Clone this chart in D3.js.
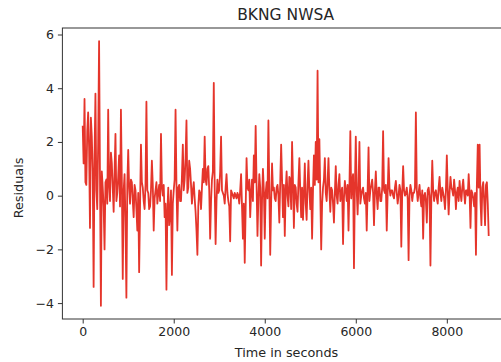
<!DOCTYPE html>
<html>
<head>
<meta charset="utf-8">
<script src="https://cdn.jsdelivr.net/npm/d3@7"></script>
<style>
  html, body { margin: 0; padding: 0; background: #fff; }
  text { font-family: "DejaVu Sans", sans-serif; fill: #262626; }
</style>
</head>
<body>
<svg width="501" height="362"></svg>
<script>
let stepSeconds = 20;
let residuals = [
    2.6, 1.2, 3.6, 0.5, 0.4, 2.4, 3.1, 1.8, -1.2, 2.9, 2.2, 0.9, -3.4, 1.5, 3.8, 0.2, -0.5, 2.0, 5.75, 0.6, -4.1, 0.9, 0.3, -0.4, -2.0,
    0.5, 0.6, -0.3, 3.2, 0.4, -0.2, 1.6, 1.2, 0.3, -0.6, 0.9, 2.3, -0.2, 0.1, 0.7, 1.5, -0.4, 3.2, 0.5, -3.1, 0.2, 0.8, -1.0, -3.8, 0.4,
    1.7, 0.3, -0.3, 0.6, 0.5, -0.2, -0.8, 0.4, 0.2, -0.5, -1.3, 0.1, -2.85, -0.4, 1.9, 0.5, 0.3, -0.2, -0.5, 0.4, 3.5, 0.2, 0.1, -0.5, -0.4,
    0.2, 1.3, 0.4, -1.3, -0.1, 0.2, 0.5, -0.3, 0.1, 0.4, -0.2, 2.3, 0.3, 0.0, 0.4, -0.8, -0.3, -3.5, -0.6, 0.3, -1.1, -0.7, 0.2, -2.95, -0.3,
    0.2, 0.6, 3.2, 0.4, -1.3, 0.3, 0.4, -0.2, -0.2, 0.7, 1.9, 0.2, 0.6, 1.4, 2.8, 0.1, 0.3, 1.3, 1.0, 0.4, -0.3, 0.2, 0.5, -0.1, -0.6,
    -1.3, -2.2, -0.4, 0.2, 0.1, -0.5, 0.3, 1.0, 0.5, 2.2, 0.6, 0.4, 1.0, 1.1, 0.2, -1.6, -0.2, 0.6, 0.9, 4.2, 0.3, -1.8, -0.2, 0.6, 0.1,
    0.2, 0.9, 2.2, 0.2, 0.1, 0.0, -0.3, 0.3, 0.8, 0.1, -0.2, -0.4, -1.7, 0.2, 0.1, 0.0, -0.1, 0.1, 0.0, -0.1, 0.1, 0.0, -0.3, 0.2, 0.8,
    -0.4, -1.6, -0.3, -2.5, -0.5, 1.4, 0.3, 0.2, 0.6, -0.8, 0.1, 0.6, -0.2, 1.5, 0.5, 2.6, 0.4, -1.5, -0.1, 0.8, 0.3, -2.6, -0.2, 1.0, 0.2,
    -1.6, 0.1, 0.5, -0.1, 2.8, 0.3, -2.2, -0.3, 1.2, 0.2, 0.3, -0.1, -0.2, 0.3, 0.4, 0.0, -1.0, 0.5, 1.9, 0.6, -0.8, 0.4, -1.5, 0.2, 0.9,
    0.0, -0.4, 0.7, 0.6, -0.5, 2.0, 0.5, -1.2, 0.4, 0.3, -0.3, -0.6, 0.5, 1.4, 0.2, -0.8, 0.3, -0.9, 0.1, 1.2, -0.3, -0.9, 0.4, 1.3, 0.2,
    -0.5, 0.3, -1.6, 0.2, 1.5, 0.4, 2.0, 0.6, 4.65, 0.5, 2.1, 0.1, -2.0, -0.3, 0.3, 0.6, 1.4, 0.1, -0.2, 0.5, 1.4, 0.2, -0.6, 0.3, 0.2,
    -0.3, -1.0, 0.1, 1.1, 0.0, -0.3, 0.4, 0.8, -0.2, 0.1, 0.3, -1.8, -0.1, 0.55, 0.2, -0.2, 0.4, -1.3, 0.3, 2.4, -0.1, 0.5, 0.8, -2.7, 0.3,
    2.2, 0.2, -0.7, 0.4, 2.0, -0.3, 0.0, 0.2, 0.3, -0.1, -0.3, 0.1, -1.3, 0.2, 1.8, -0.2, 0.2, 0.4, 0.6, 0.1, -1.1, 0.2, 0.9, 0.0, -0.5,
    0.3, 0.3, -0.2, -0.2, 0.3, 2.4, 0.2, 0.1, 0.4, -1.3, 0.1, 1.4, 0.3, 0.0, 0.2, 0.2, 0.0, -0.1, 0.3, 0.55, 0.1, -0.3, 0.0, 0.4, 0.2,
    -1.9, 0.1, 1.1, 0.2, 0.0, 0.1, 0.3, -0.1, -2.4, 0.0, 0.4, 0.2, -0.2, 0.1, 0.1, 0.3, 3.1, 0.2, -0.2, 0.1, 0.4, -0.1, -0.4, 0.2, -1.6,
    0.0, 0.1, -0.2, -1.0, 0.2, 0.3, 0.0, -2.6, -0.1, 1.3, 0.2, -0.2, 0.1, 0.2, -0.1, -0.3, 0.3, 0.7, 0.1, -0.2, 0.3, 0.1, -0.1, -0.5, 0.2,
    1.5, 0.2, -0.7, 0.1, 0.7, 0.3, 0.2, 0.0, 0.6, 0.2, -0.5, 0.1, 0.3, -0.2, 0.55, 0.1, -0.2, 0.3, 0.6, 0.1, -0.3, 0.2, 0.2, 0.0, 0.8,
    0.1, -1.2, 0.2, 0.1, -0.1, -0.4, 0.1, -2.2, 0.4, 1.9, 0.3, 1.9, -0.2, -1.1, 0.3, 0.5, -0.2, -1.1, 0.4, 0.5, -0.3, -1.5
];
let xTicks = [0, 2000, 4000, 6000, 8000];
let yTicks = [-4, -2, 0, 2, 4, 6];

let svg = d3.select("svg");
let plot = {left: 62.4, right: 509, top: 28, bottom: 319};

let data = residuals.map(function (v, i) {
    return {t: i * stepSeconds, v: v};
});

let tMax = d3.max(data, function (d) { return d.t; });
let vMin = d3.min(residuals), vMax = d3.max(residuals);
let tPad = tMax * 0.05, vPad = (vMax - vMin) * 0.05;

let x = d3.scaleLinear().domain([-tPad, tMax + tPad]).range([plot.left, plot.right]);
let y = d3.scaleLinear().domain([vMin - vPad, vMax + vPad]).range([plot.bottom, plot.top]);

let line = d3.line()
    .x(function (d) { return x(d.t); })
    .y(function (d) { return y(d.v); });

svg.append("path")
    .datum(data)
    .attr("fill", "none")
    .attr("stroke", "#e5352b")
    .attr("stroke-width", 1.8)
    .attr("stroke-linejoin", "round")
    .attr("d", line);

// axes
let xAxis = svg.append("g")
    .attr("transform", "translate(0," + plot.bottom + ")")
    .call(d3.axisBottom(x).tickValues(xTicks).tickSize(4.5).tickPadding(4).tickFormat(d3.format("d")));
let yAxis = svg.append("g")
    .attr("transform", "translate(" + plot.left + ",0)")
    .call(d3.axisLeft(y).tickValues(yTicks).tickSize(4.5).tickPadding(4)
        .tickFormat(function (d) { return d < 0 ? "\u2212" + Math.abs(d) : d; }));

[xAxis, yAxis].forEach(function (a) {
    a.selectAll("text").attr("font-size", 12.5).attr("fill", "#262626")
        .style("font-family", "'DejaVu Sans', sans-serif");
    a.selectAll("line").attr("stroke", "#333").attr("stroke-width", 1);
    a.select(".domain").remove();
});

// frame
svg.append("rect")
    .attr("x", plot.left).attr("y", plot.top)
    .attr("width", plot.right - plot.left).attr("height", plot.bottom - plot.top)
    .attr("fill", "none").attr("stroke", "#333").attr("stroke-width", 1);

svg.append("text")
    .attr("x", (plot.left + plot.right) / 2).attr("y", 20)
    .attr("text-anchor", "middle").attr("font-size", 15.5)
    .text("BKNG NWSA");

svg.append("text")
    .attr("x", 286.5).attr("y", 357)
    .attr("text-anchor", "middle").attr("font-size", 12.8)
    .text("Time in seconds");

svg.append("text")
    .attr("transform", "translate(23,188) rotate(-90)")
    .attr("text-anchor", "middle").attr("font-size", 12.8)
    .text("Residuals");
</script>
</body>
</html>
